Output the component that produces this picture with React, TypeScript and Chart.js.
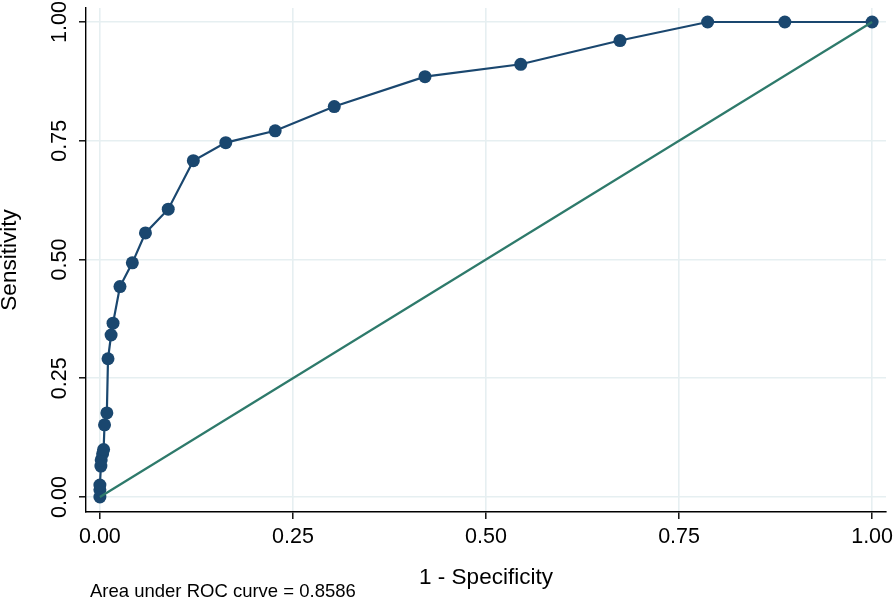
import { useEffect, useRef } from "react";
import { Chart, registerables } from "chart.js";

Chart.register(...registerables);

// ROC curve points (1 - specificity, sensitivity)
const fpr = [0, 0, 0, 0.0013, 0.0017, 0.0035, 0.0048, 0.006, 0.009, 0.0105, 0.0145, 0.017, 0.026, 0.042, 0.059, 0.0885, 0.121, 0.163, 0.227, 0.3035, 0.421, 0.545, 0.6735, 0.787, 0.887, 1];
const sensitivity = [0, 0.015, 0.025, 0.065, 0.078, 0.091, 0.1, 0.152, 0.177, 0.291, 0.341, 0.366, 0.443, 0.493, 0.556, 0.606, 0.708, 0.746, 0.771, 0.822, 0.885, 0.911, 0.961, 1, 1, 1];

// Reference (diagonal) line
const refX = [0, 1];
const refY = [0, 1];

const tickValues = [0, 0.25, 0.5, 0.75, 1];
const tickLabels = ["0.00", "0.25", "0.50", "0.75", "1.00"];

const xTitle = "1 - Specificity";
const yTitle = "Sensitivity";
const note = "Area under ROC curve = 0.8586";

const FONT = '"Liberation Sans", Arial, Helvetica, sans-serif';

const textPlugin = {
  id: "stataText",
  afterDraw(chart: any) {
    const ctx = chart.ctx as CanvasRenderingContext2D;
    const xs = chart.scales.x;
    const ys = chart.scales.y;
    const area = chart.chartArea;
    ctx.save();
    ctx.fillStyle = "#000";
    // x tick labels
    ctx.font = `21.5px ${FONT}`;
    ctx.textAlign = "center";
    ctx.textBaseline = "alphabetic";
    tickValues.forEach((v, i) => {
      ctx.fillText(tickLabels[i], xs.getPixelForValue(v), 543);
    });
    // y tick labels (rotated)
    tickValues.forEach((v, i) => {
      ctx.save();
      ctx.translate(66, ys.getPixelForValue(v));
      ctx.rotate(-Math.PI / 2);
      ctx.fillText(tickLabels[i], 0, 0);
      ctx.restore();
    });
    // x title
    ctx.font = `22.5px ${FONT}`;
    ctx.fillText(xTitle, (area.left + area.right) / 2, 584);
    // y title
    ctx.save();
    ctx.translate(16, (area.top + area.bottom) / 2);
    ctx.rotate(-Math.PI / 2);
    ctx.fillText(yTitle, 0, 0);
    ctx.restore();
    // note
    ctx.font = `18.5px ${FONT}`;
    ctx.textAlign = "left";
    ctx.fillText(note, 90, 597);
    ctx.restore();
  },
};

export default function App() {
  const ref = useRef<HTMLCanvasElement | null>(null);

  useEffect(() => {
    document.body.style.margin = "0";
    const canvas = ref.current;
    if (!canvas) return;
    const rocData = fpr.map((x, i) => ({ x, y: sensitivity[i] }));
    const diagData = refX.map((x, i) => ({ x, y: refY[i] }));
    const setTicks = (s: any) => {
      s.ticks = tickValues.map((v) => ({ value: v }));
    };
    const chart = new Chart(canvas, {
      type: "scatter",
      data: {
        datasets: [
          {
            label: "Reference",
            data: diagData,
            showLine: true,
            borderColor: "#2e7a6b",
            backgroundColor: "#2e7a6b",
            borderWidth: 2.2,
            pointRadius: 0,
          },
          {
            label: "ROC",
            data: rocData,
            showLine: true,
            borderColor: "#1a476f",
            backgroundColor: "#1a476f",
            borderWidth: 2.2,
            pointRadius: 6.5,
            pointBorderWidth: 0,
          },
        ],
      },
      options: {
        animation: false,
        responsive: false,
        events: [],
        layout: { padding: { top: 8, right: 8, left: 0, bottom: 0 } },
        plugins: { legend: { display: false }, tooltip: { enabled: false } },
        scales: {
          x: {
            type: "linear",
            min: -0.018,
            max: 1.018,
            afterBuildTicks: setTicks,
            afterFit: (s: any) => {
              s.height = 87;
            },
            ticks: { display: false },
            grid: {
              color: "#e6eff1",
              lineWidth: 1.6,
              drawTicks: true,
              tickLength: 7,
              tickColor: "#000",
              tickWidth: 1.4,
            },
            border: { display: true, color: "#000", width: 1.4 },
          },
          y: {
            type: "linear",
            min: -0.0316,
            max: 1.0295,
            afterBuildTicks: setTicks,
            afterFit: (s: any) => {
              s.width = 86;
            },
            ticks: { display: false },
            grid: {
              color: "#e6eff1",
              lineWidth: 1.6,
              drawTicks: true,
              tickLength: 7,
              tickColor: "#000",
              tickWidth: 1.4,
            },
            border: { display: true, color: "#000", width: 1.4 },
          },
        },
      },
      plugins: [textPlugin],
    });
    return () => chart.destroy();
  }, []);

  return <canvas ref={ref} width={894} height={599} style={{ display: "block" }} />;
}
